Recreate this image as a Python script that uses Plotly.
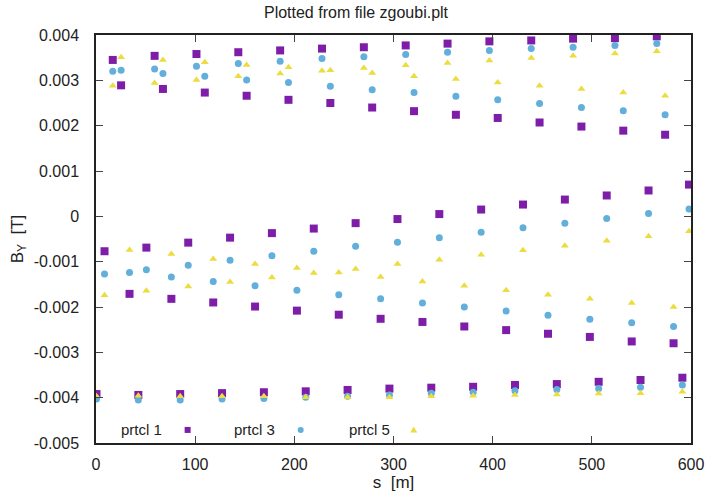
import plotly.graph_objects as go

# s positions [m] (5 columns per cell)
s = [0.5, 8.6, 16.9, 25.3, 33.8,
     42.7, 50.8, 59.1, 67.5, 76.0,
     84.9, 93.0, 101.3, 109.7, 118.2,
     127.1, 135.2, 143.5, 151.9, 160.4,
     169.3, 177.4, 185.7, 194.1, 202.6,
     211.5, 219.6, 227.9, 236.3, 244.8,
     253.7, 261.8, 270.1, 278.5, 287.0,
     295.9, 304.0, 312.3, 320.7, 329.2,
     338.1, 346.2, 354.5, 362.9, 371.4,
     380.3, 388.4, 396.7, 405.1, 413.6,
     422.5, 430.6, 438.9, 447.3, 455.8,
     464.7, 472.8, 481.1, 489.5, 498.0,
     506.9, 515.0, 523.3, 531.7, 540.2,
     549.1, 557.2, 565.5, 573.9, 582.4,
     591.3, 598.0]

# B_Y values in units of 1e-3 T, same ordering as s
by_p1 = [-3.92, -0.77, 3.45, 2.89, -1.71,
         -3.94, -0.69, 3.54, 2.81, -1.82,
         -3.92, -0.58, 3.58, 2.73, -1.90,
         -3.90, -0.47, 3.62, 2.66, -1.99,
         -3.88, -0.37, 3.66, 2.57, -2.08,
         -3.86, -0.27, 3.70, 2.50, -2.17,
         -3.83, -0.15, 3.73, 2.40, -2.26,
         -3.80, -0.06, 3.77, 2.32, -2.33,
         -3.78, 0.05, 3.81, 2.24, -2.43,
         -3.76, 0.15, 3.86, 2.17, -2.51,
         -3.72, 0.26, 3.88, 2.07, -2.59,
         -3.70, 0.37, 3.92, 1.98, -2.66,
         -3.65, 0.46, 3.93, 1.89, -2.76,
         -3.61, 0.57, 3.97, 1.80, -2.80,
         -3.56, 0.70]

by_p3 = [-4.03, -1.27, 3.20, 3.22, -1.24,
         -4.05, -1.18, 3.25, 3.15, -1.34,
         -4.05, -1.08, 3.31, 3.09, -1.44,
         -4.03, -0.97, 3.37, 3.01, -1.53,
         -4.02, -0.87, 3.42, 2.95, -1.63,
         -3.99, -0.77, 3.48, 2.87, -1.73,
         -3.97, -0.66, 3.52, 2.79, -1.82,
         -3.94, -0.57, 3.57, 2.73, -1.91,
         -3.90, -0.47, 3.62, 2.65, -2.00,
         -3.88, -0.35, 3.66, 2.57, -2.09,
         -3.85, -0.25, 3.70, 2.49, -2.18,
         -3.82, -0.15, 3.73, 2.40, -2.27,
         -3.80, -0.05, 3.77, 2.33, -2.35,
         -3.77, 0.06, 3.81, 2.24, -2.43,
         -3.72, 0.16]

by_p5 = [-3.97, -1.74, 2.88, 3.51, -0.74,
         -3.96, -1.64, 2.94, 3.45, -0.83,
         -3.97, -1.55, 3.01, 3.40, -0.94,
         -3.97, -1.45, 3.09, 3.34, -1.05,
         -3.97, -1.35, 3.15, 3.29, -1.14,
         -3.99, -1.25, 3.21, 3.22, -1.24,
         -3.99, -1.16, 3.27, 3.16, -1.34,
         -3.99, -1.05, 3.33, 3.09, -1.44,
         -3.97, -0.96, 3.38, 3.03, -1.53,
         -3.96, -0.85, 3.44, 2.95, -1.63,
         -3.94, -0.75, 3.49, 2.88, -1.73,
         -3.93, -0.65, 3.54, 2.81, -1.82,
         -3.91, -0.54, 3.59, 2.73, -1.91,
         -3.90, -0.44, 3.64, 2.66, -2.00,
         -3.87, -0.33]

names = ["prtcl 1", "prtcl 3", "prtcl 5"]
colors = ["#7e1ea8", "#62afdc", "#ecdc3e"]
symbols = ["square", "circle", "triangle-up"]
sizes = [8, 7, 7]
x_ticks = [0, 100, 200, 300, 400, 500, 600]
y_ticks = [0.004, 0.003, 0.002, 0.001, 0, -0.001, -0.002, -0.003, -0.004, -0.005]
y_tick_labels = ["0.004", "0.003", "0.002", "0.001", "0", "-0.001", "-0.002", "-0.003", "-0.004", "-0.005"]

fig = go.Figure()
for name, vals, col, sym, sz in zip(names, [by_p1, by_p3, by_p5], colors, symbols, sizes):
    fig.add_trace(go.Scatter(
        x=s, y=[v * 1e-3 for v in vals], mode="markers", name=name,
        marker=dict(symbol=sym, color=col, size=sz, line=dict(width=0)),
        showlegend=False,
    ))

font = "Liberation Sans, Arial, Helvetica, sans-serif"

# gnuplot-style key: label text followed by its marker
key_y = 0.032
key_x_text = [0.1135, 0.305, 0.497]
key_x_mark = [0.154, 0.344, 0.534]
for i in range(3):
    fig.add_annotation(x=key_x_text[i], y=key_y, xref="paper", yref="paper",
                       text=names[i], showarrow=False, xanchor="right", yanchor="middle",
                       font=dict(family=font, size=15, color="#222"))
key_shapes = [
    dict(type="rect", x0=-3, x1=3, y0=-3, y1=3),
    dict(type="circle", x0=-3, x1=3, y0=-3, y1=3),
    dict(type="path", path="M -3.5,-2.5 L 3.5,-2.5 L 0,3.5 Z"),
]
for i, shp in enumerate(key_shapes):
    fig.add_shape(xref="paper", yref="paper", xsizemode="pixel", ysizemode="pixel",
                  xanchor=key_x_mark[i], yanchor=key_y,
                  fillcolor=colors[i], line=dict(width=0), **shp)

fig.update_layout(
    width=712, height=495,
    margin=dict(l=96, r=21, t=35, b=52),
    paper_bgcolor="white", plot_bgcolor="white",
    font=dict(family=font, size=16, color="#222"),
    title=dict(text="Plotted from file zgoubi.plt", x=0.5, xanchor="center",
               y=0.975, yanchor="middle", font=dict(size=16)),
    xaxis=dict(range=[0, 600], tickvals=x_ticks, ticks="inside", ticklen=7,
               showline=True, mirror="allticks", linecolor="#222", linewidth=1.5,
               tickcolor="#444", showgrid=False, zeroline=False, automargin=False,
               ticklabelstandoff=6,
               title=dict(text="s  [m]", standoff=4, font=dict(size=17)),
               tickfont=dict(size=16)),
    yaxis=dict(range=[-0.005, 0.004], tickvals=y_ticks, ticktext=y_tick_labels,
               ticks="inside", ticklen=7, showline=True, mirror="allticks",
               linecolor="#222", linewidth=1.5, tickcolor="#444",
               showgrid=False, zeroline=False, automargin=False,
               ticklabelstandoff=12,
               title=dict(text="B<sub>Y</sub>  [T]", standoff=6, font=dict(size=17)),
               tickfont=dict(size=16)),
)

fig.write_html("out.html",
               config={"displayModeBar": False},
               post_script="document.body.style.margin='0';document.body.style.overflow='hidden';")
